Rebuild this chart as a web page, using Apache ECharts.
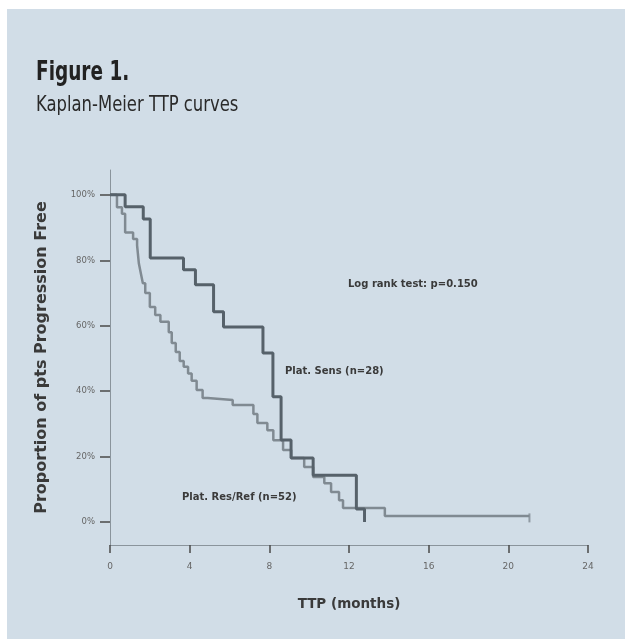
<!DOCTYPE html>
<html>
<head>
<meta charset="utf-8">
<script src="https://cdn.jsdelivr.net/npm/echarts@6/dist/echarts.min.js"></script>
<style>
  html, body { margin: 0; padding: 0; background: #ffffff; }
  #panel { position: absolute; left: 7px; top: 9px; width: 618px; height: 630px; background: #d1dde7; }
  #chart { position: absolute; left: 0; top: 0; width: 625px; height: 639px; }
</style>
</head>
<body>
<div id="panel"></div>
<div id="chart"></div>
<script>
// months / proportion progression free (%)
const sensTime = [0, 0.76, 1.67, 2.02, 3.69, 4.29, 5.2, 5.7, 7.68, 8.18, 8.59, 9.09, 10.2, 12.37, 12.78];
const sensProb = [100, 96.4, 92.6, 80.7, 77.1, 72.5, 64.3, 59.6, 51.7, 38.3, 25.1, 19.6, 14.3, 4.0, 0];

const resTime = [0, 0.35, 0.6, 0.76, 1.16, 1.36, 1.45, 1.55, 1.65, 1.77, 2.0, 2.27, 2.53, 2.95, 3.1, 3.3, 3.5,
                 3.7, 3.92, 4.1, 4.35, 4.65, 4.9, 6.16, 7.2, 7.4, 7.9, 8.2, 8.69, 9.1, 9.75, 10.2,
                 10.76, 11.1, 11.5, 11.7, 13.8, 21.06];
const resProb = [100, 96.2, 94.2, 88.5, 86.5, 84.6, 79, 76, 73, 70, 65.7, 63.3, 61.2, 58, 54.7, 52, 49.2,
                 47.5, 45.4, 43.2, 40.4, 37.9, 37.3, 35.8, 33, 30.3, 28.1, 25, 22, 19.6, 16.8, 13.8,
                 11.9, 9.2, 6.7, 4.3, 1.9, 1.9];

const xTicks = [0, 4, 8, 12, 16, 20, 24];
const yTicks = [0, 20, 40, 60, 80, 100];

function pairs(xs, ys) {
    let out = [];
    for (let i = 0; i < xs.length; i++) {
        out.push([xs[i], ys[i]]);
    }
    return out;
}

const labelFont = "'DejaVu Sans', sans-serif";
const titleFont = "'DejaVu Sans Condensed', sans-serif";

let chart = echarts.init(document.getElementById('chart'), null, { renderer: 'canvas' });

chart.setOption({
    backgroundColor: 'transparent',
    animation: false,
    grid: { left: 110, right: 37, top: 170, bottom: 94 },
    xAxis: {
        type: 'value',
        min: xTicks[0],
        max: xTicks[xTicks.length - 1],
        interval: 4,
        name: 'TTP (months)',
        nameLocation: 'middle',
        nameGap: 52,
        nameTextStyle: { fontFamily: labelFont, fontWeight: 'bold', fontSize: 13.5, color: '#3a3a3a' },
        axisLine: { onZero: false, lineStyle: { color: '#8a949c', width: 1 } },
        axisTick: { show: true, length: 8, lineStyle: { color: '#4a4a4a', width: 1.5 } },
        axisLabel: { margin: 17, fontFamily: labelFont, fontSize: 9, color: '#666' },
        splitLine: { show: false }
    },
    yAxis: {
        type: 'value',
        min: -7,
        max: 107.6,
        name: 'Proportion of pts Progression Free',
        nameLocation: 'middle',
        nameGap: 60,
        nameTextStyle: { fontFamily: labelFont, fontWeight: 'bold', fontSize: 16, color: '#3a3a3a' },
        axisLine: { show: true, lineStyle: { color: '#8a949c', width: 1 } },
        axisTick: { show: true, length: 10, customValues: yTicks, lineStyle: { color: '#4a4a4a', width: 1.5 } },
        axisLabel: {
            customValues: yTicks,
            margin: 15,
            fontFamily: labelFont,
            fontSize: 8.5,
            color: '#666',
            formatter: '{value}%'
        },
        splitLine: { show: false }
    },
    graphic: [
        { type: 'text', x: 36, y: 60, scaleX: 0.79,
          style: { text: 'Figure 1.', font: "bold 26px " + titleFont, fill: '#222' } },
        { type: 'text', x: 36, y: 95, scaleX: 0.87,
          style: { text: 'Kaplan-Meier TTP curves', font: "21px " + titleFont, fill: '#2a2a2a' } },
        { type: 'text', left: 348, top: 279,
          style: { text: 'Log rank test: p=0.150', font: "bold 10px " + labelFont, fill: '#3a3a3a' } },
        { type: 'text', left: 285, top: 366,
          style: { text: 'Plat. Sens (n=28)', font: "bold 10px " + labelFont, fill: '#3a3a3a' } },
        { type: 'text', left: 182, top: 492,
          style: { text: 'Plat. Res/Ref (n=52)', font: "bold 10px " + labelFont, fill: '#3a3a3a' } }
    ],
    series: [
        {
            name: 'Plat. Res/Ref',
            type: 'line',
            step: 'end',
            symbol: 'none',
            data: pairs(resTime, resProb),
            lineStyle: { color: '#808a92', width: 2.5 },
            z: 2
        },
        {
            name: 'Plat. Sens',
            type: 'line',
            step: 'end',
            symbol: 'none',
            data: pairs(sensTime, sensProb),
            lineStyle: { color: '#56616a', width: 3 },
            z: 3
        },
        {
            name: 'censored',
            type: 'scatter',
            symbol: 'rect',
            symbolSize: [2, 9],
            symbolOffset: [0, 2],
            itemStyle: { color: '#808a92' },
            data: [[resTime[resTime.length - 1], resProb[resProb.length - 1]]],
            z: 2
        }
    ]
});
</script>
</body>
</html>
